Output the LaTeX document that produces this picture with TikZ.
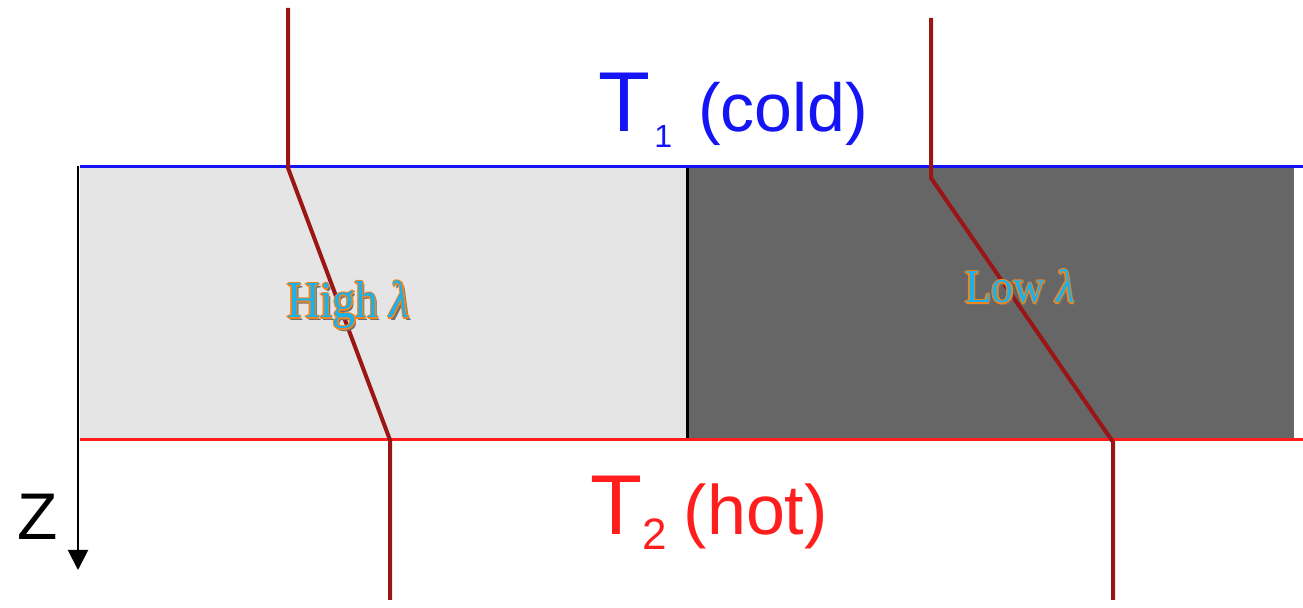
\documentclass[tikz,border=0pt]{standalone}
\usepackage{graphicx}
\usepackage{fontspec}
\setsansfont{Liberation Sans}
\newfontfamily\lamfont{Liberation Serif}
\usetikzlibrary{arrows.meta}
\definecolor{lightfill}{HTML}{E5E5E5}
\definecolor{darkfill}{HTML}{666666}
\definecolor{tline}{HTML}{9A1515}
\definecolor{coldblue}{HTML}{1414F5}
\definecolor{hotred}{HTML}{FF1E1E}
\definecolor{lamblue}{HTML}{18B2EC}
\definecolor{lamorange}{HTML}{F08420}
\definecolor{lamshadow}{HTML}{6E6E6E}
\tikzset{
  lamtext/.style={anchor=base west, inner sep=0pt, outer sep=0pt},
  bandline/.style={line width=1.5pt},
  profile/.style={draw=tline, line width=2pt},
  templabel/.style={anchor=base west, inner sep=0pt, font=\sffamily}
}
\newcommand{\glowtext}[5]{%
  \node[lamtext, text=lamshadow, xshift=1.1pt, yshift=-1.1pt] (#1s) at (#2) {\lamfont\fontsize{#3}{#3}\selectfont\scalebox{#4}[1]{#5}};
  \foreach \dx/\dy [count=\k] in {0.65/0,-0.65/0,0/0.65,0/-0.65,0.46/0.46,-0.46/0.46,0.46/-0.46,-0.46/-0.46}
    \node[lamtext, text=lamorange, xshift=\dx pt, yshift=\dy pt] (#1o\k) at (#2) {\lamfont\fontsize{#3}{#3}\selectfont\scalebox{#4}[1]{#5}};
  \node[lamtext, text=lamblue] (#1) at (#2) {\lamfont\fontsize{#3}{#3}\selectfont\scalebox{#4}[1]{#5}};
}
\begin{document}
\begin{tikzpicture}[x=0.5pt,y=-0.5pt]
\useasboundingbox (0,0) rectangle (1303,608);
% slabs
\fill[lightfill] (80,167) rectangle (687,440);
\fill[darkfill] (687,167) rectangle (1294,440);
\draw[black, line width=1.5pt] (687,167) -- (687,440);
% boundaries
\draw[bandline, coldblue] (80,167) -- (1303,167);
\draw[bandline, hotred] (80,440) -- (1303,440);
% z axis
\draw[black, line width=1pt, -{Triangle[length=10pt,width=10pt]}] (78,166) -- (78,570);
\node[inner sep=0pt, font=\sffamily\fontsize{33}{33}\selectfont] (zlab) at (38,517) {Z};
% temperature profiles
\draw[profile] (288,8) -- (288,168) -- (390,440) -- (390,600);
\draw[profile] (931,18) -- (931,178) -- (1113,442) -- (1113,600);
% temperature labels
\node[templabel, text=coldblue] (t1) at (598,132) {\fontsize{42.5}{42.5}\selectfont T\kern2pt\raisebox{-8pt}{\fontsize{16}{16}\selectfont 1}\hspace{13pt}\fontsize{34}{34}\selectfont (cold)};
\node[templabel, text=hotred] (t2) at (590,535) {\fontsize{42.5}{42.5}\selectfont T\kern0pt\raisebox{-7.5pt}{\fontsize{22}{22}\selectfont 2}\hspace{8.5pt}\fontsize{35}{35}\selectfont (hot)};
% conductivity labels
\glowtext{high}{287,318}{26}{0.88}{High {\itshape λ}}
\glowtext{low}{965,303}{23.5}{0.93}{Low {\itshape λ}}
\end{tikzpicture}
\end{document}
